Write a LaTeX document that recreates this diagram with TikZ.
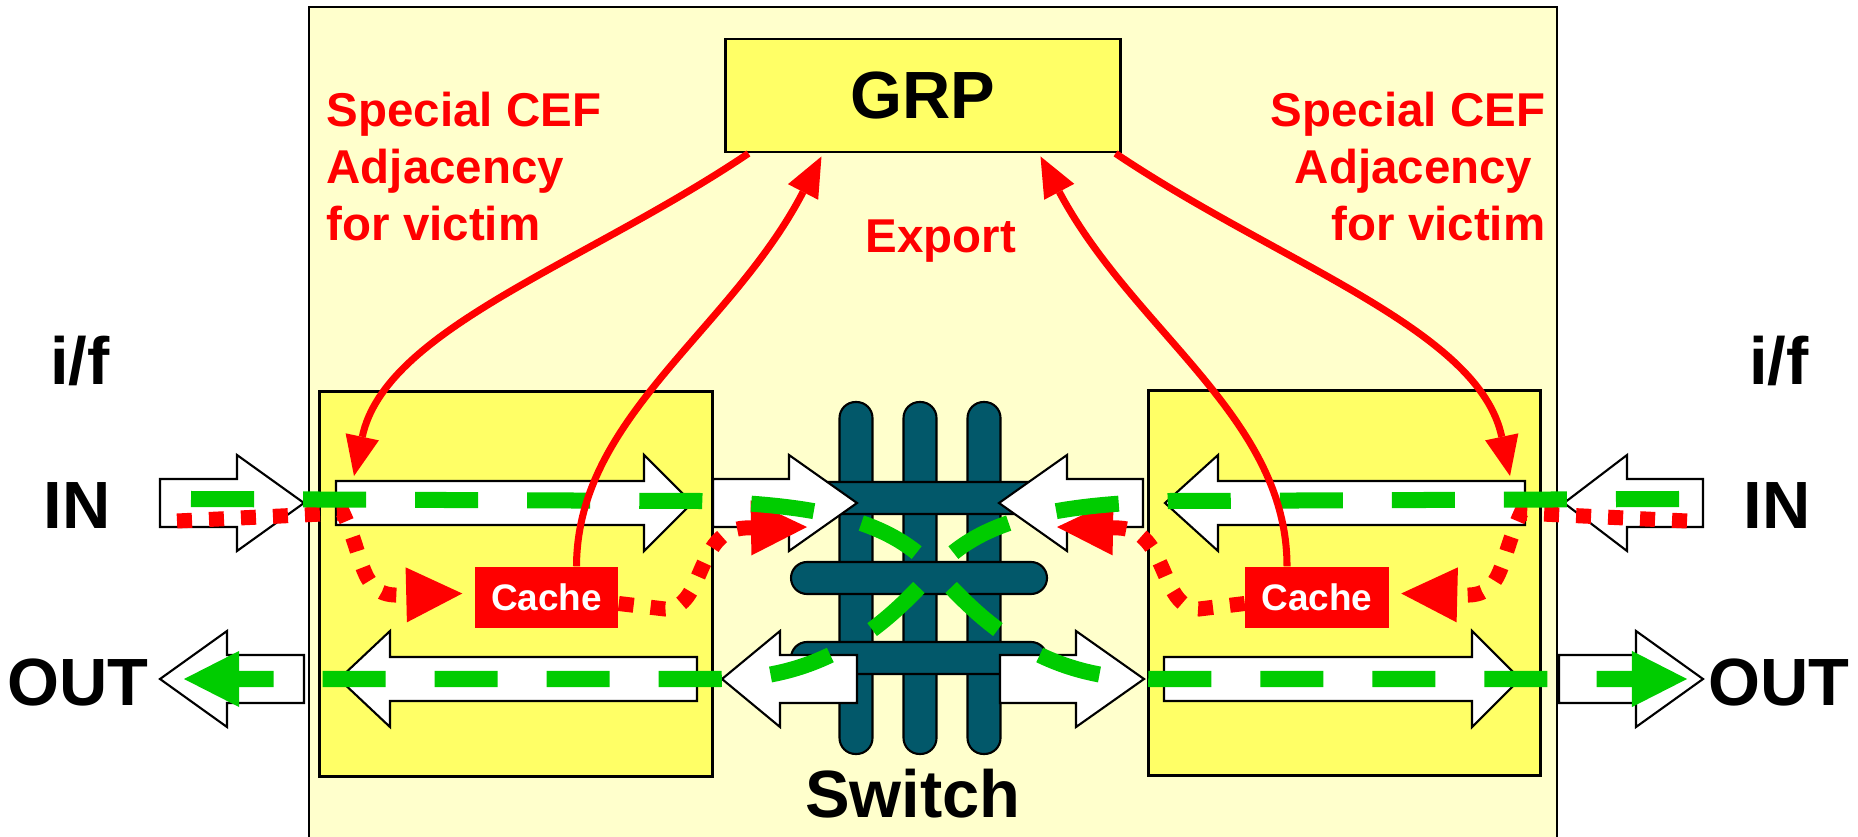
\documentclass[tikz,border=0pt]{standalone}
\usepackage{fontspec}
\setmainfont{Liberation Sans}
\usepackage{tikz}
\usetikzlibrary{arrows.meta,calc,positioning}
\definecolor{cefInk}{HTML}{000000}
\definecolor{cefRed}{HTML}{FF0000}
\definecolor{cefGreen}{HTML}{00CC00}
\definecolor{cefTeal}{HTML}{02586A}
\definecolor{cefPale}{HTML}{FFFFCC}
\definecolor{cefYellow}{HTML}{FFFF66}
\tikzset{
  cefChassis/.style={fill=cefPale,draw=cefInk,line width=0.7pt},
  cefCard/.style={fill=cefYellow,draw=cefInk,line width=0.8pt,inner sep=0pt,
                  minimum width=3.92cm,minimum height=3.84cm},
  cefBlock/.style={fill=white,draw=cefInk,line width=0.6pt,line join=miter},
  cefBar/.style={fill=cefTeal,draw=cefInk,line width=0.6pt,rounded corners=0.16cm},
  cefPath/.style={draw=cefRed,line width=2pt,
                  -{Triangle[length=0.4cm,width=0.34cm,line width=0pt]}},
  cefLocal/.style={draw=cefRed,line width=0.15cm,dash pattern=on 0.15cm off 0.17cm,
                   -{Triangle[length=0.56cm,width=0.55cm,line width=0pt]}},
  cefFlow/.style={draw=cefGreen,line width=0.16cm,dash pattern=on 0.63cm off 0.49cm,
                  -{Triangle[length=0.55cm,width=0.56cm,line width=0pt]}},
  cefCache/.style={fill=cefRed,text=white,inner sep=0pt,
                   font=\fontsize{10.5}{12}\selectfont\bfseries,
                   minimum width=1.43cm,minimum height=0.61cm},
  cefBig/.style={font=\fontsize{19}{22}\selectfont\bfseries,inner sep=0pt},
  cefNote/.style={text=cefRed,font=\fontsize{13.5}{16.2}\selectfont\bfseries,inner sep=0pt}
}
% block arrow: tail x, head base x, tip x, centre y, half shaft
\newcommand{\cefArrow}[5]{%
  \draw[cefBlock] (#1,#4-#5) -- (#2,#4-#5) -- (#2,#4-48) -- (#3,#4)
    -- (#2,#4+48) -- (#2,#4+#5) -- (#1,#4+#5) -- cycle;}

\begin{document}
\begin{tikzpicture}[x=0.01cm,y=-0.01cm]
\path[use as bounding box] (0,0) rectangle (1858,837);
\clip (0,0) rectangle (1858,837);
\draw[cefChassis] (309,7) rectangle (1557,880);
\node[draw=cefInk,fill=cefYellow,line width=0.8pt,inner sep=0pt,
      minimum width=3.94cm,minimum height=1.13cm,font=\fontsize{19}{22}\selectfont\bfseries]
      (grp) at (923,95.5) {GRP};
\node[cefCard] (cardL) at (516,584) {};
\node[cefCard] (cardR) at (1344.5,583) {};

\draw[cefBar] (839.5,402) rectangle (872.5,754);
\draw[cefBar] (903.5,402) rectangle (936.5,754);
\draw[cefBar] (967.5,402) rectangle (1000.5,754);
\draw[cefBar] (791,482) rectangle (1047,514);
\draw[cefBar] (791,562) rectangle (1047,594);
\draw[cefBar] (791,642) rectangle (1047,674);

\cefArrow{160}{237}{304}{503}{24}
\cefArrow{336}{644}{692}{503}{22}
\cefArrow{713}{789}{857}{503}{24}
\cefArrow{1143}{1067}{999}{503}{24}
\cefArrow{1525}{1218}{1165}{503}{22}
\cefArrow{1703}{1627}{1564}{503}{24}
\cefArrow{304}{227}{160}{679}{24}
\cefArrow{697}{390}{339}{679}{22}
\cefArrow{857}{780}{722}{679}{24}
\cefArrow{1000}{1076}{1144}{679}{24}
\cefArrow{1164}{1472}{1520}{679}{22}
\cefArrow{1559}{1636}{1703}{679}{24}

\node[cefBig,anchor=base] (ifL) at (80,385) {i/f};
\node[cefBig,anchor=base] (inL) at (77,528) {IN};
\node[cefBig,anchor=base] (outL) at (78,705) {OUT};
\node[cefBig,anchor=base] (ifR) at (1779,385) {i/f};
\node[cefBig,anchor=base] (inR) at (1777,528) {IN};
\node[cefBig,anchor=base] (outR) at (1779,705) {OUT};
\node[cefBig,anchor=base] (switch) at (913,817) {Switch};
\node[cefNote,align=left,anchor=north west] (noteL) at (326,91)
  {Special CEF\\Adjacency\\for victim};
\node[cefNote,align=right,anchor=north east] (noteR) at (1546,91)
  {Special CEF\\Adjacency\rule{0.13cm}{0pt}\\for victim};
\node[cefNote,anchor=base] (export) at (941,253) {Export};

\node[cefCache] (cacheL) at (546.5,597.5) {Cache};
\node[cefCache] (cacheR) at (1317,597.5) {Cache};

\coordinate (rxL) at (177,521);
\coordinate (rxR) at (1687,521);
\coordinate (swL) at (807,527);
\coordinate (swR) at (1057,527);
\coordinate (flowInL) at (191,499);
\coordinate (flowInR) at (1679,499);
\coordinate (flowOutL) at (184,679);
\coordinate (flowOutR) at (1687,679);
\coordinate (xing) at (935,570);
\coordinate (adjL) at (354,476);
\coordinate (adjR) at (1510,476);

\draw[cefLocal] (rxL) -- (343,513) .. controls (365,560) and (360,597) .. (400,595)
  -- ($(cacheL.west)+(-12,-4)$);
\draw[cefLocal] ($(cacheL.east)+(0,6)$) -- (665,609) .. controls (705,609) and (695,530)
  .. (745,528) -- (swL);
\draw[cefLocal] (rxR) -- (1521,513) .. controls (1499,560) and (1504,597) .. (1464,595)
  -- ($(cacheR.east)+(12,-4)$);
\draw[cefLocal] ($(cacheR.west)+(0,6)$) -- (1199,609) .. controls (1159,609) and (1169,530)
  .. (1119,528) -- (swR);

\draw[cefFlow] (flowInL) -- (700,501) .. controls (820,505) and (890,520) .. (xing)
  .. controls (980,620) and (1040,679) .. (1150,679) -- (flowOutR);
\draw[cefFlow] (flowInR) -- (1170,501) .. controls (1050,505) and (980,520) .. (xing)
  .. controls (890,620) and (830,679) .. (720,679) -- (flowOutL);

\draw[cefPath] ($(grp.south west)+(24,0)$) .. controls (584,264) and (385,329) .. (adjL);
\draw[cefPath] ($(cacheL.north)+(30,0)$) .. controls (577,417) and (731,331)
  .. ($(grp.south west)+(97,3)$);
\draw[cefPath] ($(cacheR.north)+(-30,0)$) .. controls (1287,417) and (1133,331)
  .. ($(grp.south west)+(316,3)$);
\draw[cefPath] ($(grp.south east)+(-6,0)$) .. controls (1280,264) and (1479,329) .. (adjR);
\end{tikzpicture}
\end{document}
